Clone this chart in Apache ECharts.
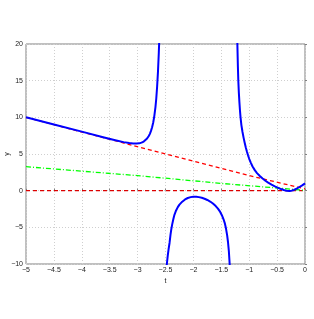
<!DOCTYPE html>
<html>
<head>
<meta charset="utf-8">
<script src="https://cdn.jsdelivr.net/npm/echarts@6/dist/echarts.min.js"></script>
<style>
html,body{margin:0;padding:0;background:#fff;}
#chart{width:314px;height:319px;}
</style>
</head>
<body>
<div id="chart"></div>
<script>
// x tick values and labels
const xTicks = [-5, -4.5, -4, -3.5, -3, -2.5, -2, -1.5, -1, -0.5, 0];
const xTickLabels = ['−5', '−4.5', '−4', '−3.5', '−3', '−2.5', '−2', '−1.5', '−1', '−0.5', '0'];
const yTicks = [-10, -5, 0, 5, 10, 15, 20];
const yTickLabels = ['−10', '−5', '0', '5', '10', '15', '20'];

// blue curve, three branches (t, y)
const blueLeft = [[-5,10],[-4.5,9.02],[-4,8.05],[-3.6,7.25],[-3.4,6.88],[-3.25,6.62],[-3.15,6.5],[-3.08,6.44],[-3.02,6.42],[-2.97,6.45],[-2.93,6.55],[-2.89,6.7],[-2.86,6.88],[-2.83,7.12],[-2.8,7.45],[-2.78,7.75],[-2.76,8.15],[-2.74,8.65],[-2.72,9.3],[-2.70,10.2],[-2.68,11.4],[-2.665,12.6],[-2.65,14.2],[-2.635,16.2],[-2.62,18.8],[-2.605,22],[-2.59,26]];
const blueMiddle = [[-2.49,-12],[-2.476,-10],[-2.46,-8.9],[-2.445,-8.0],[-2.427,-7.1],[-2.41,-6.0],[-2.397,-5.3],[-2.38,-4.6],[-2.36,-3.9],[-2.34,-3.3],[-2.31,-2.7],[-2.28,-2.25],[-2.25,-1.9],[-2.2,-1.5],[-2.15,-1.2],[-2.1,-1.0],[-2.05,-0.88],[-2.0,-0.83],[-1.95,-0.83],[-1.9,-0.88],[-1.85,-0.97],[-1.8,-1.1],[-1.75,-1.27],[-1.7,-1.48],[-1.65,-1.75],[-1.6,-2.1],[-1.56,-2.45],[-1.52,-2.9],[-1.49,-3.35],[-1.46,-3.9],[-1.435,-4.5],[-1.415,-5.2],[-1.395,-6.1],[-1.38,-7.0],[-1.365,-8.2],[-1.35,-10],[-1.335,-12]];
const blueRight = [[-1.22,24],[-1.212,20],[-1.203,17],[-1.195,15],[-1.185,13.3],[-1.175,12],[-1.165,10.9],[-1.155,10],[-1.14,8.95],[-1.12,8.0],[-1.1,7.2],[-1.08,6.5],[-1.06,5.85],[-1.04,5.3],[-1.02,4.8],[-1.0,4.35],[-0.97,3.8],[-0.94,3.3],[-0.9,2.8],[-0.86,2.4],[-0.81,2.0],[-0.76,1.65],[-0.71,1.35],[-0.66,1.09],[-0.6,0.82],[-0.54,0.58],[-0.48,0.38],[-0.43,0.22],[-0.38,0.09],[-0.33,0.0],[-0.28,-0.03],[-0.24,0.0],[-0.2,0.1],[-0.15,0.28],[-0.1,0.5],[-0.05,0.73],[0,1.0]];
// red dashed asymptote
const redLine = [[-5,10],[-2.5,5.0],[-1,2.05],[0,0.25]];
// green dash-dot line
const greenLine = [[-5,3.27],[-3,2.05],[-1.44,0.95],[0,0.05]];
// dark red zero line
const zeroLine = [[-5,0],[0,0]];

const font = 'Liberation Sans';
const chart = echarts.init(document.getElementById('chart'), null, {renderer:'canvas'});
function lbl(ticks, labels){ return v => { const i = ticks.findIndex(t => Math.abs(t - v) < 1e-9); return i >= 0 ? labels[i] : ''; }; }

const blueStyle = {type: 'line', showSymbol: false, clip: true, smooth: false, z: 3, lineStyle: {color: '#0000ff', width: 2, join: 'round'}};

chart.setOption({
  animation: false,
  backgroundColor: '#ffffff',
  grid: {left: 26, right: 9, top: 44, bottom: 55, containLabel: false, outerBoundsMode: 'none', show: true, borderColor: '#808080', borderWidth: 1, backgroundColor: 'transparent'},
  xAxis: {
    type: 'value', min: -5, max: 0, interval: 0.5,
    name: 't', nameLocation: 'middle', nameGap: 14, nameMoveOverlap: false,
    nameTextStyle: {fontFamily: font, fontSize: 7, color: '#222'},
    axisLine: {show: false},
    axisTick: {show: true, inside: true, length: 2, lineStyle: {color: '#808080'}},
    axisLabel: {fontFamily: font, fontSize: 7, color: '#222', margin: 3, formatter: lbl(xTicks, xTickLabels)},
    splitLine: {show: true, lineStyle: {color: '#cfcfcf', type: [1, 2], width: 1}}
  },
  yAxis: {
    type: 'value', min: -10, max: 20, interval: 5,
    name: 'y', nameLocation: 'middle', nameGap: 15, nameRotate: 90, nameMoveOverlap: false,
    nameTextStyle: {fontFamily: font, fontSize: 7, color: '#222'},
    axisLine: {show: false},
    axisTick: {show: true, inside: true, length: 2, lineStyle: {color: '#808080'}},
    axisLabel: {fontFamily: font, fontSize: 7, color: '#222', margin: 3, formatter: lbl(yTicks, yTickLabels)},
    splitLine: {show: true, lineStyle: {color: '#cfcfcf', type: [1, 2], width: 1}}
  },
  series: [
    {type: 'line', data: zeroLine, showSymbol: false, clip: true, z: 2, lineStyle: {color: '#dd0000', width: 1.3, type: [4, 3]}},
    {type: 'line', data: greenLine, showSymbol: false, clip: true, z: 2, lineStyle: {color: '#00ff00', width: 1.3, type: [5, 2, 1, 2]}},
    {type: 'line', data: redLine, showSymbol: false, clip: true, z: 2, lineStyle: {color: '#ff0000', width: 1.3, type: [4, 3]}},
    Object.assign({data: blueLeft}, blueStyle),
    Object.assign({data: blueMiddle}, blueStyle),
    Object.assign({data: blueRight}, blueStyle)
  ]
});
</script>
</body>
</html>
